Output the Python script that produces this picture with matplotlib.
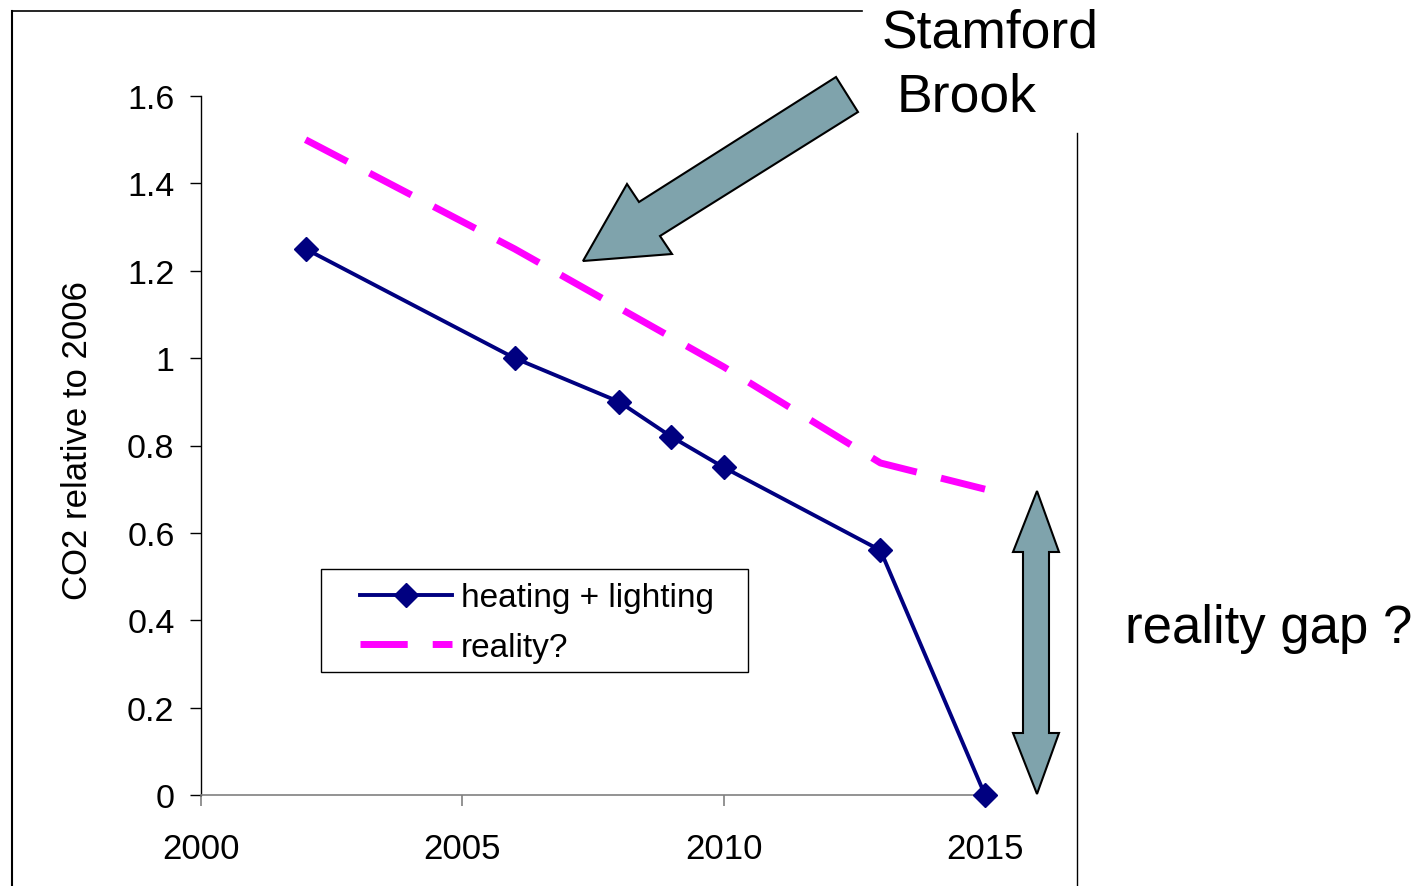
import numpy as np
import matplotlib
matplotlib.use("Agg")
from matplotlib import pyplot as plt
from matplotlib.lines import Line2D
from matplotlib.patches import Polygon, Rectangle
from matplotlib.ticker import FixedLocator, FixedFormatter

plt.rcParams['font.family'] = ['Liberation Sans', 'DejaVu Sans']

# data
years_heat = [2002, 2006, 2008, 2009, 2010, 2013, 2015]
heat_light = [1.25, 1.0, 0.9, 0.82, 0.75, 0.56, 0.0]
years_real = [2002, 2006, 2010, 2013, 2015]
reality = [1.5, 1.25, 0.98, 0.76, 0.70]
x_ticks = [2000, 2005, 2010, 2015]
y_ticks = [0, 0.2, 0.4, 0.6, 0.8, 1.0, 1.2, 1.4, 1.6]
y_labels = ["0", "0.2", "0.4", "0.6", "0.8", "1", "1.2", "1.4", "1.6"]

W, H = 1427, 887
fig = plt.figure(figsize=(W / 100, H / 100), dpi=100)

def px(x, y):
    # pixel coords (top-left origin) -> figure fraction
    return (x / W, 1 - y / H)

ax = fig.add_axes([201 / W, 1 - 796 / H, (985 - 201) / W, (796 - 97) / H])
ax.plot(years_heat, heat_light, color="#000080", lw=2.8, marker="D", ms=12,
        label="heating + lighting", clip_on=False, zorder=3)
ax.plot(years_real, reality, color="#FF00FF", lw=5, dashes=(6.8, 3.6),
        label="reality?", clip_on=False, zorder=2)

ax.set_xlim(2000, 2015)
ax.set_ylim(0, 1.6)
ax.xaxis.set_major_locator(FixedLocator(x_ticks))
ax.yaxis.set_major_locator(FixedLocator(y_ticks))
ax.yaxis.set_major_formatter(FixedFormatter(y_labels))
ax.spines["top"].set_visible(False)
ax.spines["right"].set_visible(False)
ax.spines["left"].set_color("black")
ax.spines["left"].set_linewidth(1)
ax.spines["bottom"].set_color("#808080")
ax.spines["bottom"].set_linewidth(1.2)
ax.tick_params(axis="y", direction="out", length=8, width=1, color="black",
               labelsize=24.5, pad=11)
ax.tick_params(axis="x", direction="out", length=8, width=1.2, color="#808080",
               labelsize=25, pad=19)
ax.set_ylabel("CO2 relative to 2006", fontsize=25)
ax.yaxis.set_label_coords(-0.137, 0.509)

# legend: box drawn separately so the padding matches the original
leg = ax.legend(loc="center left", bbox_to_anchor=(0.2028, 0.2468), borderaxespad=0,
                borderpad=0, fontsize=24, frameon=False,
                handlelength=2.75, handletextpad=0.28, labelspacing=0.55)
leg.set_zorder(6)
box = Rectangle(px(321, 673), 427 / W, 103 / H, facecolor="white",
                edgecolor="black", lw=1, transform=fig.transFigure,
                zorder=5, clip_on=False)
ax.add_patch(box)

# frame lines around the slide
for (x0, y0, x1, y1, lw) in [(12, 12, 862, 12, 1.2), (12, 12, 12, 887, 1.5),
                             (1077, 134, 1077, 887, 1)]:
    a, b = px(x0, y0)
    c, d = px(x1, y1)
    fig.add_artist(Line2D([a, c], [b, d], color="black", lw=lw,
                          transform=fig.transFigure))

arrow_col = "#7FA3AC"
big_arrow = [(583, 262), (627, 185), (639, 203), (836, 78), (858, 113),
             (660, 237), (672, 255)]
fig.add_artist(Polygon([px(*p) for p in big_arrow], closed=True,
                       facecolor=arrow_col, edgecolor="black", lw=1.5,
                       transform=fig.transFigure))
dbl_arrow = [(1037, 492), (1059, 553), (1049, 553), (1049, 734), (1059, 734),
             (1037, 795), (1013, 734), (1023, 734), (1023, 553), (1013, 553)]
fig.add_artist(Polygon([px(*p) for p in dbl_arrow], closed=True,
                       facecolor=arrow_col, edgecolor="black", lw=1.5,
                       transform=fig.transFigure))

fig.text(*px(882, 48), "Stamford", fontsize=38.5, ha="left", va="baseline")
fig.text(*px(897, 112), "Brook", fontsize=38.5, ha="left", va="baseline")
fig.text(*px(1125, 643), "reality gap ?", fontsize=38, ha="left", va="baseline")

fig.savefig("out.png", dpi=100)
